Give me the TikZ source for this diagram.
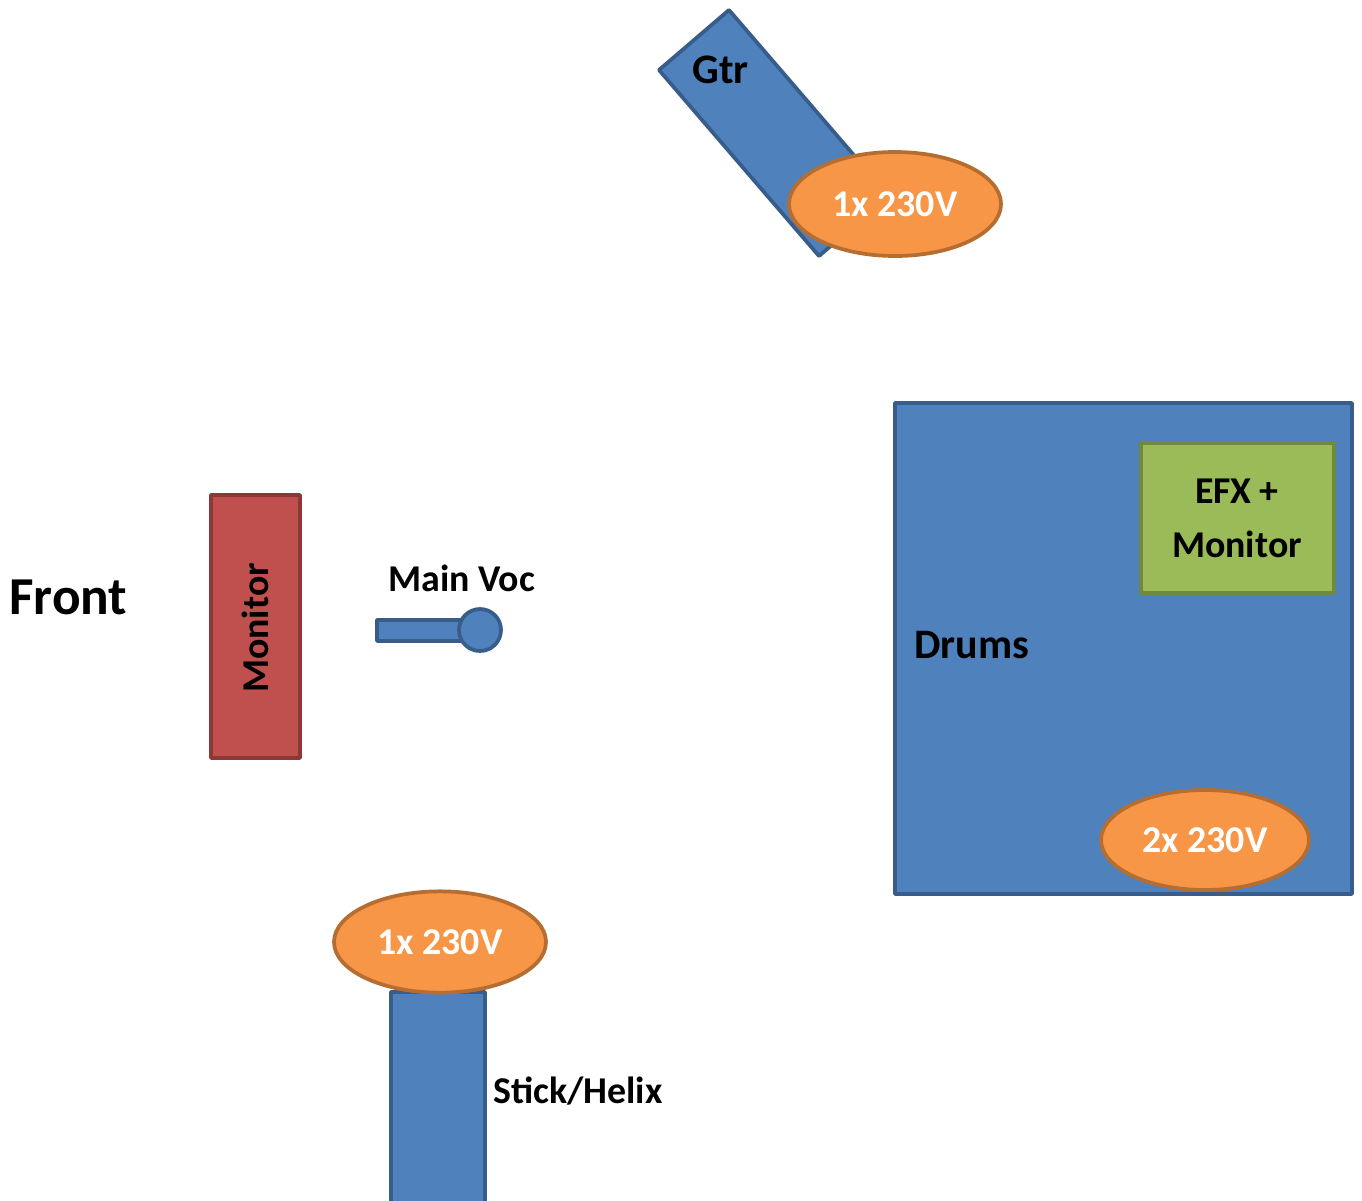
\documentclass[tikz,border=0pt]{standalone}
\usepackage{fontspec}
\setmainfont{Carlito}
\usetikzlibrary{shapes.geometric}
\definecolor{bfill}{HTML}{4F81BD}
\definecolor{bdraw}{HTML}{385D8A}
\definecolor{rfill}{HTML}{C0504D}
\definecolor{rdraw}{HTML}{8C3836}
\definecolor{gfill}{HTML}{9BBB59}
\definecolor{gdraw}{HTML}{71893F}
\definecolor{ofill}{HTML}{F79646}
\definecolor{odraw}{HTML}{B66D31}
\tikzset{
  bluebox/.style={fill=bfill,draw=bdraw,line width=2.8pt,line join=round},
  redbox/.style={fill=rfill,draw=rdraw,line width=2.8pt,line join=round},
  greenbox/.style={fill=gfill,draw=gdraw,line width=2.8pt,line join=round},
  power/.style={ellipse,fill=ofill,draw=odraw,line width=2.8pt,inner sep=0pt,
    text=white,font=\bfseries\fontsize{28.4}{34}\selectfont},
  lbl/.style={inner sep=0pt,font=\bfseries\fontsize{28.4}{34}\selectfont},
  midlbl/.style={inner sep=0pt,font=\bfseries\fontsize{31.5}{38}\selectfont},
  biglbl/.style={inner sep=0pt,font=\bfseries\fontsize{40}{48}\selectfont}
}
\begin{document}
\begin{tikzpicture}[x=0.75pt,y=-0.75pt]
\clip (0,0) rectangle (1362,1200);
\fill[white] (0,0) rectangle (1362,1200);
% Guitar
\draw[bluebox] (729,10) -- (659,70) -- (819,256) -- (889,196) -- cycle;
\node[midlbl,anchor=base west] (gtr) at (692,83) {Gtr};
\node[power,minimum width=159pt,minimum height=78pt] (pgtr) at (895,204) {1x 230V};
% Front
\node[biglbl,anchor=base west] (front) at (9,614) {Front};
% Monitor
\draw[redbox] (211,495) rectangle (300,758);
\node[lbl,rotate=90] (mon) at (255,628) {Monitor};
% Main vocal mic
\node[lbl,anchor=base west] (voc) at (388,591) {Main Voc};
\draw[bluebox] (377,620) rectangle (468,641);
\draw[bluebox] (480,630) circle[radius=21];
% Drums
\draw[bluebox] (895,403) rectangle (1352,894);
\draw[greenbox] (1141,443) rectangle (1334,593);
\node[lbl,anchor=base] (efx1) at (1237,503) {EFX +};
\node[lbl,anchor=base] (efx2) at (1237,557) {Monitor};
\node[midlbl,anchor=base west] (drums) at (914,658) {Drums};
\node[power,minimum width=156pt,minimum height=75pt] (pdrums) at (1205,840) {2x 230V};
% Stick / Helix
\draw[bluebox] (391,992) rectangle (485,1215);
\node[power,minimum width=159pt,minimum height=76pt] (pstick) at (440,942) {1x 230V};
\node[lbl,anchor=base west] (stick) at (493,1103) {Stick/Helix};
\end{tikzpicture}
\end{document}
